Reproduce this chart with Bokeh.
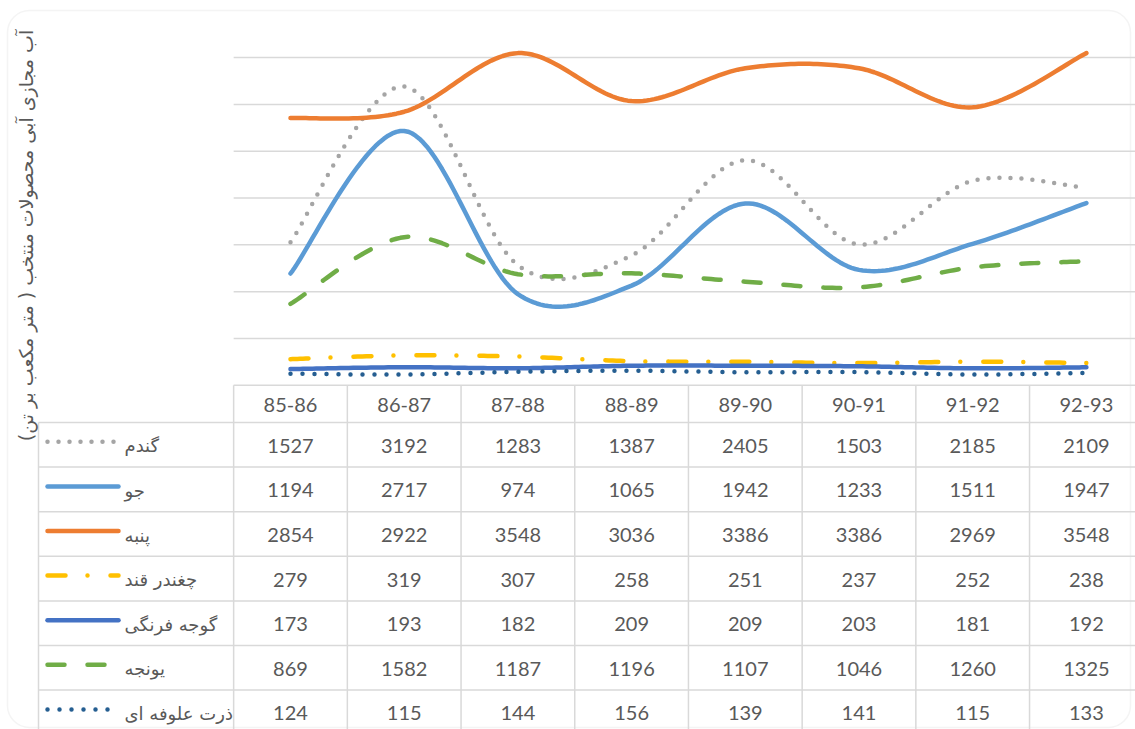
import math
import numpy as np
from bokeh.plotting import figure
from bokeh.models import Range1d, Label, BoxAnnotation
from bokeh.core.properties import value
from bokeh.embed import file_html
from bokeh.resources import INLINE

# ---------------- data ----------------
categories = ["85-86", "86-87", "87-88", "88-89", "89-90", "90-91", "91-92", "92-93"]
series_names = ["گندم", "جو", "پنبه", "چغندر قند", "گوجه فرنگی", "یونجه", "ذرت علوفه ای"]
wheat = [1527, 3192, 1283, 1387, 2405, 1503, 2185, 2109]
barley = [1194, 2717, 974, 1065, 1942, 1233, 1511, 1947]
cotton = [2854, 2922, 3548, 3036, 3386, 3386, 2969, 3548]
sugar_beet = [279, 319, 307, 258, 251, 237, 252, 238]
tomato = [173, 193, 182, 209, 209, 203, 181, 192]
alfalfa = [869, 1582, 1187, 1196, 1107, 1046, 1260, 1325]
fodder_corn = [124, 115, 144, 156, 139, 141, 115, 133]
y_ticks = [500, 1000, 1500, 2000, 2500, 3000, 3500]
y_title = "آب مجازی آبی محصولات منتخب ( متر مکعب بر تن)\u200f"

series_values = [wheat, barley, cotton, sugar_beet, tomato, alfalfa, fodder_corn]
colors = ["#A5A5A5", "#5B9BD5", "#ED7D31", "#FFC000", "#4472C4", "#70AD47", "#255E91"]
dashes = ["0 11", "solid", "solid", "18 22 0 23", "solid", "17 23", "0 12"]

# ---------------- layout (page pixels) ----------------
W, H = 1135, 729
PX0, PY0 = 0, 0
PX1, PY1 = PX0 + W, PY0 + H
CAT0_PX = 290.0      # centre of first category
COL_W = 113.7        # category width
ZERO_PX = 384.8      # y pixel of value 0
TOP_PX = 10.3        # y pixel of value Y_MAX
Y_MAX = 4000
k = (ZERO_PX - TOP_PX) / Y_MAX

x_start = (PX0 - CAT0_PX) / COL_W
x_end = (PX1 - CAT0_PX) / COL_W
y_start = (ZERO_PX - PY1) / k
y_end = (ZERO_PX - PY0) / k

HEADER_H = 37.2
ROW_H = 44.6
LABEL_COL_LEFT = 38
GRID = "#D9D9D9"
TXT = "#595959"

p = figure(width=W, height=H, x_range=Range1d(x_start, x_end), y_range=Range1d(y_start, y_end),
           output_backend="svg", toolbar_location=None, min_border=0,
           x_axis_location=None, y_axis_location=None)
p.grid.visible = False
p.outline_line_color = None
p.background_fill_color = "white"
p.border_fill_color = "white"
p.extra_x_ranges = {"px": Range1d(PX0, PX1)}
p.extra_y_ranges = {"pxy": Range1d(PY1, PY0)}

# chart border
p.add_layout(BoxAnnotation(left=7, right=1130, top=10, bottom=727,
                           x_range_name="px", y_range_name="pxy",
                           fill_color=None, line_color=GRID, line_width=1.5,
                           border_radius=22, level="underlay"))

# gridlines
n = len(categories)
p.segment(x0=[-0.5] * len(y_ticks), x1=[x_end] * len(y_ticks), y0=y_ticks, y1=y_ticks,
          line_color=GRID, line_width=1.5)

# smooth curve rendering (Catmull-Rom as Bezier, like Excel smoothed lines)
def smooth(ys, steps=30):
    xs = np.arange(len(ys), dtype=float)
    ys = np.asarray(ys, dtype=float)
    P = np.column_stack([xs, ys])
    out = []
    for i in range(len(P) - 1):
        p0 = P[i - 1] if i > 0 else P[i]
        p1, p2 = P[i], P[i + 1]
        p3 = P[i + 2] if i + 2 < len(P) else P[i + 1]
        c1 = p1 + (p2 - p0) / 6.0
        c2 = p2 - (p3 - p1) / 6.0
        t = np.linspace(0, 1, steps, endpoint=(i == len(P) - 2))[:, None]
        seg = ((1 - t) ** 3) * p1 + 3 * ((1 - t) ** 2) * t * c1 + 3 * (1 - t) * t ** 2 * c2 + t ** 3 * p2
        out.append(seg)
    arr = np.vstack(out)
    return arr[:, 0], arr[:, 1]

for vals, col, dash in zip(series_values, colors, dashes):
    sx, sy = smooth(vals)
    p.line(sx, sy, line_color=col, line_width=4.5, line_dash=dash,
           line_cap="round", line_join="round")

# ---------------- data table ----------------
tbl_top = ZERO_PX
rows_top = tbl_top + HEADER_H
# header top line
p.segment(x0=[-0.5], x1=[x_end], y0=[0], y1=[0], line_color=GRID, line_width=1.5)
# row lines
row_lines = [rows_top + ROW_H * r for r in range(len(series_names) + 1)]
p.segment(x0=[LABEL_COL_LEFT] * len(row_lines), x1=[PX1] * len(row_lines),
          y0=row_lines, y1=row_lines, x_range_name="px", y_range_name="pxy",
          line_color=GRID, line_width=1.5)
# vertical lines
vx = [i - 0.5 for i in range(n + 1)]
p.segment(x0=vx, x1=vx, y0=[tbl_top] * len(vx), y1=[PY1 + 20] * len(vx),
          y_range_name="pxy", line_color=GRID, line_width=1.5)
p.segment(x0=[LABEL_COL_LEFT], x1=[LABEL_COL_LEFT], y0=[rows_top], y1=[PY1 + 20],
          x_range_name="px", y_range_name="pxy", line_color=GRID, line_width=1.5)

# header labels
p.text(x=list(range(n)), y=[tbl_top + HEADER_H / 2 + 1] * n, text=categories,
       y_range_name="pxy", text_align="center", text_baseline="middle",
       text_font=value("Lato"), text_font_size="20px", text_color=TXT)

# values
for r, vals in enumerate(series_values):
    cy = rows_top + ROW_H * (r + 0.5)
    p.text(x=list(range(n)), y=[cy + 1] * n, text=[str(v) for v in vals],
           y_range_name="pxy", text_align="center", text_baseline="middle",
           text_font=value("Lato"), text_font_size="20px", text_color=TXT)
    # legend key
    p.line([47, 118], [cy - 3, cy - 3], x_range_name="px", y_range_name="pxy",
           line_color=colors[r], line_width=4.5, line_dash=dashes[r], line_cap="round")
    p.text(x=[124], y=[cy + 1], text=[series_names[r]], x_range_name="px", y_range_name="pxy",
           text_align="left", text_baseline="middle",
           text_font=value("DejaVu Sans"), text_font_size="18px", text_color=TXT)

# y-axis title
p.add_layout(Label(x=25, y=235, x_range_name="px", y_range_name="pxy", text=y_title,
                   angle=math.pi / 2, text_align="center", text_baseline="middle",
                   text_font="DejaVu Sans", text_font_size="19px", text_color=TXT))

open("out.html", "w").write(file_html(p, INLINE))
